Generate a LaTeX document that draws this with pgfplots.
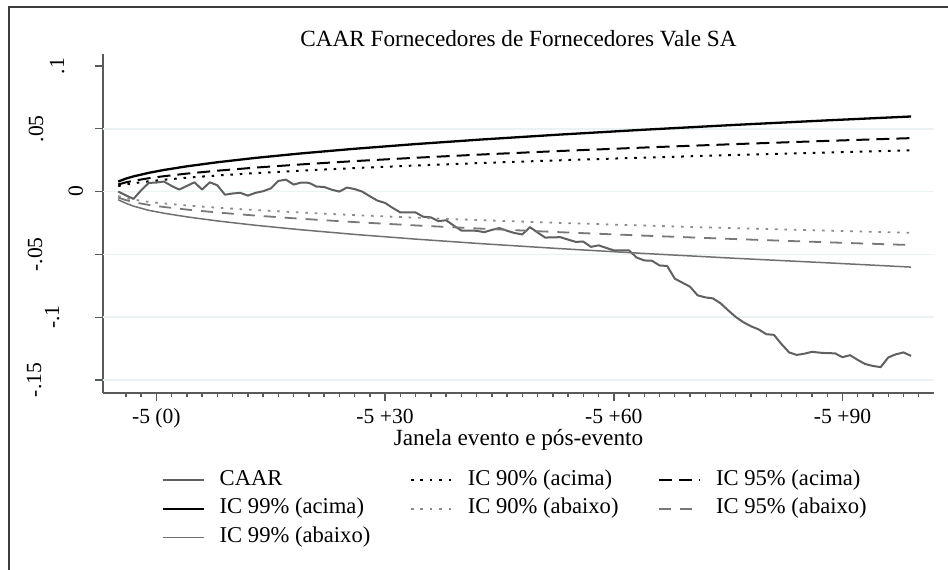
\documentclass[border=0pt]{standalone}
\usepackage{fontspec}
\setmainfont{Liberation Serif}
\usepackage{pgfplots}
\usepackage{pgfplotstable}
\pgfplotsset{compat=1.18}
\definecolor{gridc}{RGB}{234,242,243}
\definecolor{axc}{RGB}{90,90,90}
\definecolor{framec}{RGB}{60,60,60}
\definecolor{caarc}{RGB}{96,96,96}
\definecolor{lowsol}{RGB}{112,112,112}
\definecolor{lowdash}{RGB}{120,120,120}
\definecolor{lowdot}{RGB}{140,140,140}

\pgfplotstableread{
x     u99      u95      u90      l90      l95      l99
-5    0.00800  0.00570  0.00439  -0.00360 -0.00480 -0.00650
-4    0.01032  0.00735  0.00567  -0.00520 -0.00680 -0.00930
-3    0.01210  0.00862  0.00664  -0.00640 -0.00840 -0.01160
-1    0.01492  0.01062  0.00819  -0.00819 -0.01062 -0.01492
1     0.01722  0.01226  0.00945  -0.00945 -0.01226 -0.01722
4     0.02011  0.01432  0.01104  -0.01104 -0.01432 -0.02011
8     0.02335  0.01663  0.01282  -0.01282 -0.01663 -0.02335
13    0.02681  0.01909  0.01472  -0.01472 -0.01909 -0.02681
19    0.03040  0.02164  0.01669  -0.01669 -0.02164 -0.03040
26    0.03408  0.02427  0.01871  -0.01871 -0.02427 -0.03408
34    0.03782  0.02693  0.02076  -0.02076 -0.02693 -0.03782
43    0.04160  0.02962  0.02284  -0.02284 -0.02962 -0.04160
53    0.04541  0.03233  0.02493  -0.02493 -0.03233 -0.04541
64    0.04925  0.03507  0.02704  -0.02704 -0.03507 -0.04925
76    0.05311  0.03781  0.02916  -0.02916 -0.03781 -0.05311
88    0.05669  0.04036  0.03112  -0.03112 -0.04036 -0.05669
99    0.05978  0.04256  0.03282  -0.03282 -0.04256 -0.06010
}\bands

\pgfplotstableread{
x   y
-5  0.0000
-4  -0.0030
-3  -0.0058
-2  0.0010
-1  0.0069
0   0.0072
1   0.0080
2   0.0045
3   0.0016
4   0.0045
5   0.0074
6   0.0016
7   0.0074
8   0.0050
9   -0.0025
10  -0.0015
11  -0.0010
12  -0.0032
13  -0.0010
14  0.0003
15  0.0025
16  0.0085
17  0.0095
18  0.0056
19  0.0072
20  0.0070
21  0.0040
22  0.0037
23  0.0015
24  0.0000
25  0.0032
26  0.0020
27  0.0000
28  -0.0037
29  -0.0072
30  -0.0090
31  -0.0130
32  -0.0166
33  -0.0166
34  -0.0166
35  -0.0200
36  -0.0205
37  -0.0235
38  -0.0228
39  -0.0270
40  -0.0310
41  -0.0310
42  -0.0312
43  -0.0323
44  -0.0305
45  -0.0290
46  -0.0312
47  -0.0330
48  -0.0341
49  -0.0283
50  -0.0325
51  -0.0366
52  -0.0364
53  -0.0363
54  -0.0382
55  -0.0400
56  -0.0398
57  -0.0440
58  -0.0428
59  -0.0448
60  -0.0468
61  -0.0468
62  -0.0468
63  -0.0525
64  -0.0548
65  -0.0550
66  -0.0588
67  -0.0592
68  -0.0693
69  -0.0725
70  -0.0757
71  -0.0826
72  -0.0842
73  -0.0850
74  -0.0889
75  -0.0945
76  -0.0998
77  -0.1040
78  -0.1072
79  -0.1097
80  -0.1135
81  -0.1140
82  -0.1214
83  -0.1280
84  -0.1300
85  -0.1290
86  -0.1275
87  -0.1282
88  -0.1286
89  -0.1287
90  -0.1318
91  -0.1302
92  -0.1340
93  -0.1373
94  -0.1388
95  -0.1397
96  -0.1320
97  -0.1295
98  -0.1280
99  -0.1308
}\caar

\begin{document}
\begin{tikzpicture}
\useasboundingbox (0,0) rectangle (474pt,284.5pt);
\draw[line width=0.9pt, color=framec] (4.5pt,-2pt) -- (4.5pt,280.8pt) -- (477pt,280.8pt);
\begin{axis}[
  at={(51.5pt,88pt)}, anchor=south west,
  width=415.5pt, height=169.5pt, scale only axis,
  xmin=-7, xmax=102, ymin=-0.1603, ymax=0.1095,
  axis x line*=bottom, axis y line*=left,
  axis line style={color=axc, line width=0.8pt},
  tick align=outside,
  major tick length=4pt, minor tick length=1.8pt,
  every tick/.style={color=axc, line width=0.7pt},
  xtick={0,30,60,90},
  xticklabels={-5 (0),-5 +30,-5 +60,-5 +90},
  minor xtick={-4,-2,...,100},
  ytick={-0.15,-0.1,-0.05,0,0.05,0.1},
  yticklabels={\raisebox{27pt}{-.15},\raisebox{18pt}{-.1},\raisebox{26.5pt}{-.05},\raisebox{6pt}{0},\raisebox{26pt}{.05},\raisebox{15.5pt}{.1}},
  extra y ticks={-0.15,-0.1,-0.05,0,0.05},
  extra y tick labels={},
  extra y tick style={grid=major, major tick length=0pt},
  major grid style={color=gridc, line width=0.8pt},
  ticklabel style={font=\fontsize{10.8}{13}\selectfont},
  yticklabel style={rotate=90, anchor=base},
  yticklabel shift=0pt,
  xticklabel style={anchor=base, inner sep=1pt},
  xticklabel shift=11.3pt,
  title={CAAR Fornecedores de Fornecedores Vale SA},
  every axis title/.style={at={(0.5,1)}, anchor=base, yshift=3.7pt, font=\fontsize{11.6}{14}\selectfont},
  xlabel={Janela evento e pós-evento},
  every axis x label/.style={at={(0.5,0)}, anchor=base, yshift=-26pt, inner sep=1pt, font=\fontsize{11.6}{14}\selectfont},
  legend columns=3,
  legend cell align=left,
  legend image code/.code={\draw[#1] (0pt,0pt) -- (20.5pt,0pt);},
  legend style={at={(0,0)}, anchor=north west, xshift=29pt, yshift=-36.3pt,
    draw=none, fill=none, inner sep=0pt,
    font=\fontsize{11.3}{13.6}\selectfont,
    /tikz/every odd column/.style={column sep=3.7pt},
    /tikz/every even column/.style={column sep=16pt},
    nodes={inner xsep=3.8pt, inner ysep=0pt, text height=9.5pt, text depth=4.8pt}},
]
\addplot[color=caarc, line width=1pt, line join=round] table[x=x,y=y] {\caar};
\addlegendentry{CAAR}
\addplot[color=black, line width=1pt, dash pattern=on 1.3pt off 3.4pt] table[x=x,y=u90] {\bands};
\addlegendentry{IC 90\% (acima)}
\addplot[color=black, line width=1pt, dash pattern=on 6.5pt off 3.5pt] table[x=x,y=u95] {\bands};
\addlegendentry{IC 95\% (acima)}
\addplot[color=black, line width=1.15pt] table[x=x,y=u99] {\bands};
\addlegendentry{IC 99\% (acima)}
\addplot[color=lowdot, line width=0.9pt, dash pattern=on 1.3pt off 3.4pt] table[x=x,y=l90] {\bands};
\addlegendentry{IC 90\% (abaixo)}
\addplot[color=lowdash, line width=0.9pt, dash pattern=on 6pt off 4.5pt] table[x=x,y=l95] {\bands};
\addlegendentry{IC 95\% (abaixo)}
\addplot[color=lowsol, line width=0.75pt] table[x=x,y=l99] {\bands};
\addlegendentry{IC 99\% (abaixo)}
\end{axis}
\end{tikzpicture}
\end{document}
